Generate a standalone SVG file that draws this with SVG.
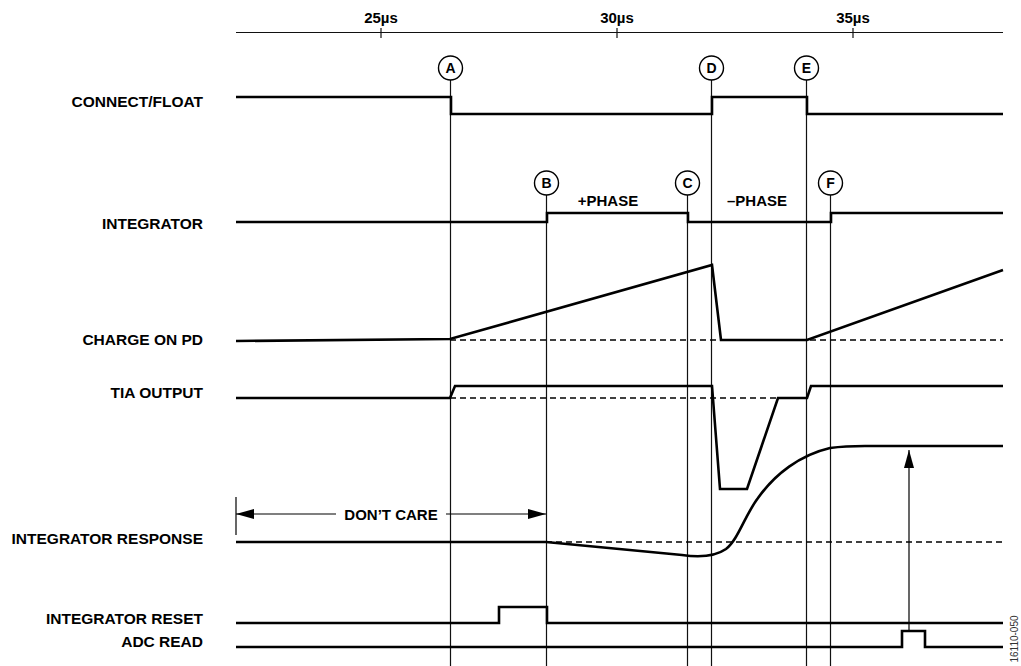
<svg xmlns="http://www.w3.org/2000/svg" width="1021" height="666" viewBox="0 0 1021 666">
<style>
.lbl{font-family:"Liberation Sans",Arial,sans-serif;font-weight:bold;font-size:15.5px;fill:#000;text-anchor:end}
.ax{font-family:"Liberation Sans",Arial,sans-serif;font-weight:bold;font-size:15px;fill:#000;text-anchor:middle}
.ph{font-family:"Liberation Sans",Arial,sans-serif;font-weight:bold;font-size:15px;fill:#000;text-anchor:middle}
.cl{font-family:"Liberation Sans",Arial,sans-serif;font-weight:bold;font-size:14px;fill:#000;text-anchor:middle}
.sig{fill:none;stroke:#000;stroke-width:2.6;stroke-linejoin:miter}
.thin{fill:none;stroke:#111;stroke-width:1.2}
.dash{fill:none;stroke:#000;stroke-width:1.3;stroke-dasharray:6 4}
.circ{fill:#fff;stroke:#000;stroke-width:1.4}
</style>
<defs>
<marker id="ah" viewBox="0 0 18 10" refX="18" refY="5" markerWidth="18" markerHeight="10" markerUnits="userSpaceOnUse" orient="auto-start-reverse">
<path d="M0,0 L18,5 L0,10 Z" fill="#000"/>
</marker>
</defs>
<rect width="1021" height="666" fill="#fff"/>

<g id="axis">
<line class="thin" x1="236" y1="32.5" x2="1003" y2="32.5"/>
<line class="thin" x1="381" y1="28" x2="381" y2="38"/>
<line class="thin" x1="617" y1="28" x2="617" y2="38"/>
<line class="thin" x1="853" y1="28" x2="853" y2="38"/>
<text class="ax" x="381" y="23">25µs</text>
<text class="ax" x="617" y="23">30µs</text>
<text class="ax" x="853" y="23">35µs</text>
</g>

<g id="connectors">
<line class="thin" x1="450.5" y1="80" x2="450.5" y2="666"/>
<line class="thin" x1="711.5" y1="80" x2="711.5" y2="666"/>
<line class="thin" x1="806.5" y1="80" x2="806.5" y2="666"/>
<line class="thin" x1="546.5" y1="195" x2="546.5" y2="666"/>
<line class="thin" x1="687.5" y1="195" x2="687.5" y2="666"/>
<line class="thin" x1="830.5" y1="195" x2="830.5" y2="666"/>
<line class="dash" x1="450" y1="340" x2="1003" y2="340"/>
<line class="dash" x1="450" y1="398" x2="778" y2="398"/>
<line class="dash" x1="546" y1="542" x2="1003" y2="542"/>
<line x1="236" y1="497" x2="236" y2="535" stroke="#000" stroke-width="1.2"/>
<line x1="236" y1="514" x2="336" y2="514" stroke="#000" stroke-width="1.2" marker-start="url(#ah)"/>
<line x1="446" y1="514" x2="546" y2="514" stroke="#000" stroke-width="1.2" marker-end="url(#ah)"/>
<line x1="909" y1="630" x2="909" y2="450" stroke="#000" stroke-width="1.2" marker-end="url(#ah)"/>
</g>

<g id="markers">
<g id="mA"><circle class="circ" cx="450.5" cy="68" r="12"/><text class="cl" x="450.5" y="73">A</text></g>
<g id="mD"><circle class="circ" cx="711.5" cy="68" r="12"/><text class="cl" x="711.5" y="73">D</text></g>
<g id="mE"><circle class="circ" cx="806.5" cy="68" r="12"/><text class="cl" x="806.5" y="73">E</text></g>
<g id="mB"><circle class="circ" cx="546.5" cy="183" r="12"/><text class="cl" x="546.5" y="188">B</text></g>
<g id="mC"><circle class="circ" cx="687.5" cy="183" r="12"/><text class="cl" x="687.5" y="188">C</text></g>
<g id="mF"><circle class="circ" cx="830.5" cy="183" r="12"/><text class="cl" x="830.5" y="188">F</text></g>
</g>

<g id="connect-float">
<text class="lbl" x="203" y="107">CONNECT/FLOAT</text>
<polyline class="sig" points="236,97 451,97 451,114 712,114 712,97 807,97 807,114 1003,114"/>
</g>

<g id="integrator">
<text class="lbl" x="203" y="229">INTEGRATOR</text>
<polyline class="sig" points="236,222 547,222 547,213 688,213 688,222 831,222 831,213 1003,213"/>
<text class="ph" x="608" y="206">+PHASE</text>
<text class="ph" x="757" y="206">–PHASE</text>
</g>

<g id="charge-on-pd">
<text class="lbl" x="203" y="345">CHARGE ON PD</text>
<polyline class="sig" points="236,341 450,339 712,265 721,340 807,340 1003,270"/>
</g>

<g id="tia-output">
<text class="lbl" x="203" y="398">TIA OUTPUT</text>
<polyline class="sig" points="236,398 450,398 455,386 712,386 720,489 747,489 778,398 807,398 811,386 1003,386"/>
</g>

<g id="integrator-response">
<text class="lbl" x="203" y="544">INTEGRATOR RESPONSE</text>
<text class="ph" x="391" y="519.5">DON’T CARE</text>
<path class="sig" d="M236,542 L546,542 L682,555 C696,557 713,558 726,549 C738,540 745,515 758,498 C775,474 800,455 830,448 C845,446 855,446 865,446 L1003,446"/>
</g>

<g id="integrator-reset">
<text class="lbl" x="203" y="624">INTEGRATOR RESET</text>
<polyline class="sig" points="236,623 499,623 499,607 547,607 547,623 1003,623"/>
</g>

<g id="adc-read">
<text class="lbl" x="203" y="647">ADC READ</text>
<polyline class="sig" points="236,647 902,647 902,631 925,631 925,647 1003,647"/>
</g>

<text x="1018" y="639" transform="rotate(-90 1018 639)" font-family="Liberation Sans, Arial, sans-serif" font-size="10" fill="#333" text-anchor="middle">16110-050</text>
</svg>
